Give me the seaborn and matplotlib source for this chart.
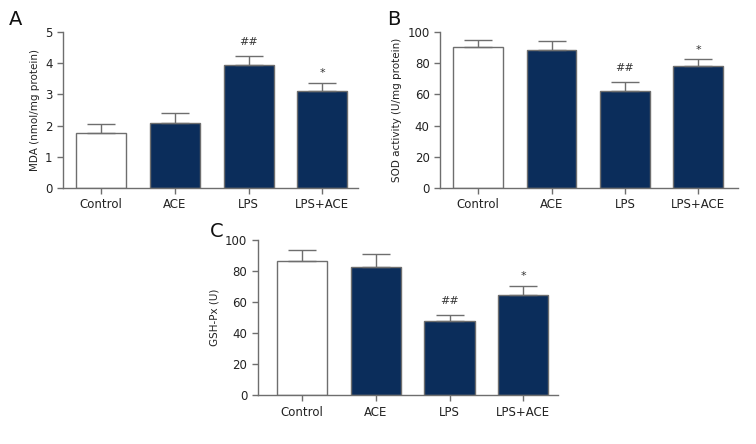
import numpy as np
import pandas as pd
import seaborn as sns
import matplotlib.pyplot as plt

sns.set_style("ticks")
plt.rcParams['font.family'] = ['DejaVu Sans']

# -----------------------------
# DATA
# -----------------------------
groups = ["Control", "ACE", "LPS", "LPS+ACE"]

mda_mean = [1.78, 2.07, 3.93, 3.12]
mda_err = [0.26, 0.33, 0.29, 0.25]
mda_marks = ["", "", "##", "*"]

sod_mean = [90.5, 88.5, 62.0, 78.0]
sod_err = [4.5, 5.5, 6.0, 4.5]
sod_marks = ["", "", "##", "*"]

gsh_mean = [86.5, 83.0, 48.0, 64.5]
gsh_err = [7.5, 8.0, 3.5, 6.0]
gsh_marks = ["", "", "##", "*"]

navy = "#0b2d5b"
edge = "#6e6e6e"
bar_colors = ["white", navy, navy, navy]

fig = plt.figure(figsize=(7.56, 4.44), dpi=100)

# axes placed to match the original layout
ax_a = fig.add_axes([0.0833, 0.5766, 0.390, 0.351])
ax_b = fig.add_axes([0.582, 0.5766, 0.394, 0.351])
ax_c = fig.add_axes([0.341, 0.110, 0.397, 0.349])


def draw_panel(ax, mean, err, marks, ylabel, ymax, step, xlim, letter, letter_pos):
    df = pd.DataFrame({"group": groups, "value": mean})
    sns.barplot(data=df, x="group", y="value", hue="group", palette=bar_colors,
                saturation=1, width=0.68, errorbar=None, legend=False,
                edgecolor=edge, linewidth=1.0, ax=ax)
    x = np.arange(len(groups))
    # upper error bars only
    ax.errorbar(x, mean, yerr=[np.zeros(len(err)), err], fmt="none",
                ecolor=edge, elinewidth=1.0, capsize=10, capthick=1.0, zorder=1)
    for xi, m, e, s in zip(x, mean, err, marks):
        if s:
            gap = 0.06 * ymax if s == "##" else 0.03 * ymax
            ax.text(xi, m + e + gap, s, ha="center", va="bottom",
                    fontsize=8, color="#333333")
    ax.set_ylim(0, ymax)
    ax.set_xlim(*xlim)
    ax.set_yticks(np.arange(0, ymax + step / 2, step))
    ax.set_xlabel("")
    ax.set_ylabel(ylabel, fontsize=7.5, color="#222222")
    ax.tick_params(axis="both", labelsize=8.5, labelcolor="#222222", color=edge,
                   length=4, width=1.0)
    for side in ["top", "right"]:
        ax.spines[side].set_visible(False)
    for side in ["left", "bottom"]:
        ax.spines[side].set_color(edge)
        ax.spines[side].set_linewidth(1.0)
    fig.text(letter_pos[0], letter_pos[1], letter, fontsize=14, ha="left",
             va="center", color="#111111")


draw_panel(ax_a, mda_mean, mda_err, mda_marks, "MDA (nmol/mg protein)", 5, 1,
           (-0.52, 3.48), "A", (0.012, 0.955))
draw_panel(ax_b, sod_mean, sod_err, sod_marks, "SOD activity (U/mg protein)", 100, 20,
           (-0.52, 3.54), "B", (0.512, 0.955))
draw_panel(ax_c, gsh_mean, gsh_err, gsh_marks, "GSH-Px (U)", 100, 20,
           (-0.6, 3.47), "C", (0.277, 0.478))

plt.savefig("out.png", dpi=100)
